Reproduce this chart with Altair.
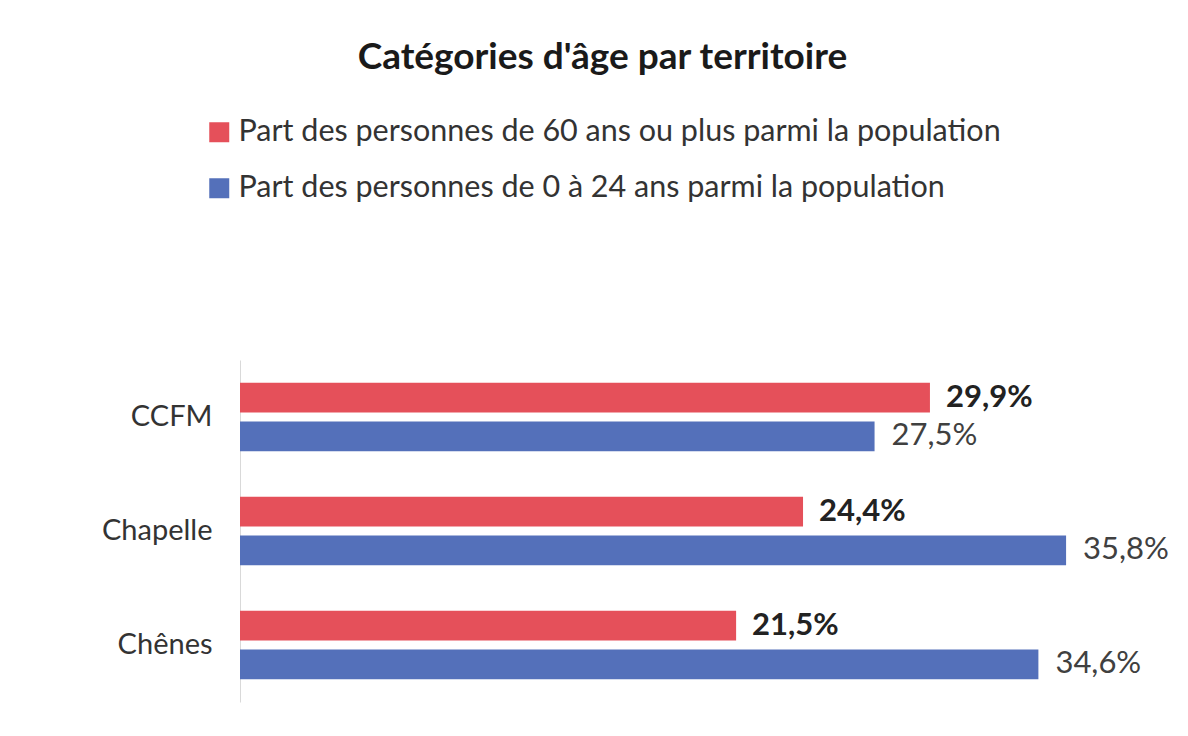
import altair as alt
import pandas as pd

# ---- data ----
territoires = ["CCFM", "Chapelle", "Chênes"]
series = [
    "Part des personnes de 60 ans ou plus parmi la population",
    "Part des personnes de 0 à 24 ans parmi la population",
]
part_60_plus = [29.9, 24.4, 21.5]
part_0_24 = [27.5, 35.8, 34.6]
colors = ["#E5505A", "#5470BA"]

rows = []
for i, t in enumerate(territoires):
    for s, vals, bold in ((series[0], part_60_plus, True), (series[1], part_0_24, False)):
        v = vals[i]
        rows.append({
            "territoire": t,
            "serie": s,
            "valeur": v,
            "label": f"{v:.1f}".replace(".", ",") + "%",
            "gras": bold,
        })
df = pd.DataFrame(rows)

FONT = "Lato"
W, H = 923, 342

base = alt.Chart(df).encode(
    y=alt.Y(
        "territoire:N",
        sort=territoires,
        scale=alt.Scale(paddingInner=0, paddingOuter=0),
        axis=alt.Axis(
            title=None,
            labelFontSize=29,
            labelFont=FONT,
            labelColor="#333333",
            labelPadding=28,
            ticks=False,
            domainColor="#D9D9D9",
            domainWidth=1,
            grid=False,
        ),
    ),
    yOffset=alt.YOffset(
        "serie:N",
        sort=series,
        scale=alt.Scale(domain=series, paddingInner=0.23, paddingOuter=0.59),
    ),
    x=alt.X("valeur:Q", scale=alt.Scale(domain=[0, 40]), axis=None),
)

bars = base.mark_bar().encode(
    color=alt.Color(
        "serie:N",
        scale=alt.Scale(domain=series, range=colors),
        legend=alt.Legend(
            title=None,
            orient="none",
            legendX=-36,
            legendY=-243,
            symbolType="square",
            symbolSize=400,
            symbolStrokeWidth=0,
            labelFontSize=30.5,
            labelFont=FONT,
            labelColor="#333333",
            labelOffset=4,
            labelLimit=0,
            rowPadding=25,
            padding=0,
        ),
    )
)

labels_bold = base.transform_filter("datum.gras").mark_text(
    align="left", baseline="middle", dx=16, fontSize=31, font=FONT,
    fontWeight="bold", color="#222222",
).encode(text="label:N")

labels_norm = base.transform_filter("!datum.gras").mark_text(
    align="left", baseline="middle", dx=17, fontSize=31, font=FONT,
    color="#404040",
).encode(text="label:N")

chart = (
    alt.layer(bars, labels_bold, labels_norm)
    .properties(
        width=W,
        height=H,
        title=alt.Title(
            "Catégories d'âge par territoire",
            fontSize=37,
            font=FONT,
            fontWeight="bold",
            color="#1A1A1A",
            anchor="middle",
            dx=-99,
            offset=40,
        ),
        padding={"left": 232, "top": 352, "right": 17, "bottom": 26},
        autosize=alt.AutoSizeParams(type="none"),
    )
    .configure(background="white")
    .configure_view(strokeWidth=0, stroke=None)
)

chart.save("out.html", embed_options={"renderer": "svg", "actions": False})
